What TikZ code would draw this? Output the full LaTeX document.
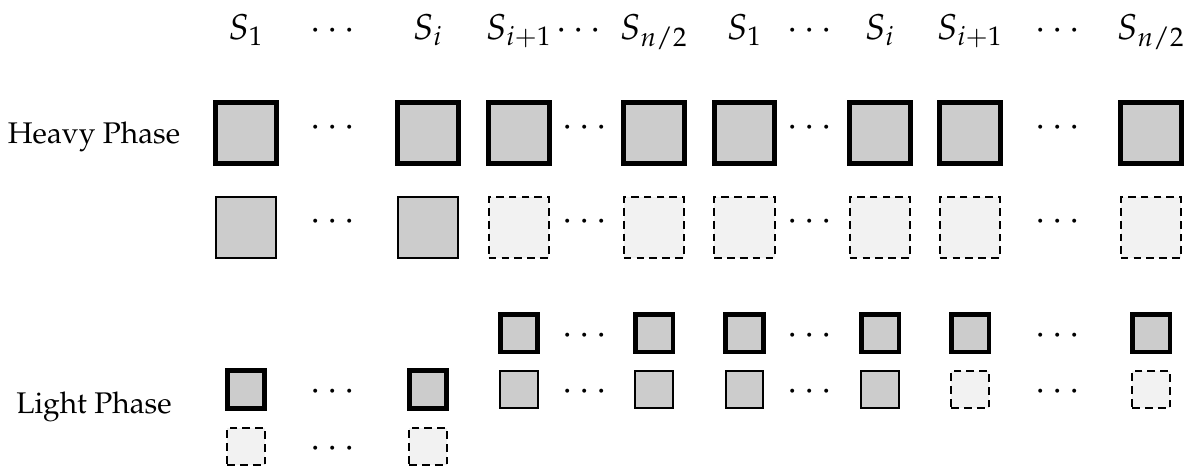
\documentclass[tikz,border=0pt]{standalone}
\usepackage[T1]{fontenc}
\usepackage{mathpazo}
\begin{document}
\begin{tikzpicture}[x=0.335pt,y=-0.335pt,
  every node/.style={inner sep=0pt,outer sep=0pt},
  bigbox/.style={minimum size=20.3pt},
  smallbox/.style={minimum size=12.6pt},
  heavybox/.style={draw=black,line width=1.55pt,fill=black!20},
  solidbox/.style={draw=black,line width=0.6pt,fill=black!20},
  dashbox/.style={draw=black,line width=0.75pt,fill=black!5,dash pattern=on 2.6pt off 1.7pt},
  lbl/.style={font=\large,anchor=base},
  dotsn/.style={font=\large},
  phase/.style={font=\normalsize}]
\useasboundingbox (0,0) rectangle (1193,468);
% column centres
\def\ca{246}\def\cb{428}\def\cc{519}\def\cd{654}
\def\ce{744.5}\def\cf{880}\def\cg{970}\def\ch{1151}
% dots columns
\def\da{333}\def\db{585}\def\dc{810}\def\dd{1058}
% rows
\def\rh{39}\def\ra{133}\def\rb{227.5}\def\rc{333}\def\rd{389.5}\def\re{446.5}

% phase labels
\node[phase] (heavy) at (94,137) {Heavy Phase};
\node[phase] (light) at (94,407) {Light Phase};

% header
\node[lbl] (s1a) at (\ca,\rh) {$S_1$};
\node[lbl] (sia) at (\cb,\rh) {$S_i$};
\node[lbl] (sja) at (\cc,\rh) {$S_{i+1}$};
\node[lbl] (sna) at (\cd,\rh) {$S_{n/2}$};
\node[lbl] (s1b) at (\ce,\rh) {$S_1$};
\node[lbl] (sib) at (\cf,\rh) {$S_i$};
\node[lbl] (sjb) at (\cg,\rh) {$S_{i+1}$};
\node[lbl] (snb) at (\ch,\rh) {$S_{n/2}$};
\node[lbl] (hd1) at (\da,\rh) {$\cdots$};
\node[lbl] (hd2) at (579,\rh) {$\cdots$};
\node[lbl] (hd3) at (\dc,\rh) {$\cdots$};
\node[lbl] (hd4) at (\dd,\rh) {$\cdots$};

% heavy phase, top row
\foreach \n/\x in {1/\ca,2/\cb,3/\cc,4/\cd,5/\ce,6/\cf,7/\cg,8/\ch}
  \node[bigbox,heavybox] (ha\n) at (\x,\ra) {};
% heavy phase, second row
\foreach \n/\x in {1/\ca,2/\cb}
  \node[bigbox,solidbox] (hb\n) at (\x,\rb) {};
\foreach \n/\x in {3/\cc,4/\cd,5/\ce,6/\cf,7/\cg,8/\ch}
  \node[bigbox,dashbox] (hb\n) at (\x,\rb) {};
\foreach \n/\x in {1/\da,2/\db,3/\dc,4/\dd}{
  \node[dotsn] (had\n) at (\x,\ra-5) {$\cdots$};
  \node[dotsn] (hbd\n) at (\x,\rb-5) {$\cdots$};
}

% light phase
\foreach \n/\x in {3/\cc,4/\cd,5/\ce,6/\cf,7/\cg,8/\ch}
  \node[smallbox,heavybox] (la\n) at (\x,\rc) {};
\foreach \n/\x in {1/\ca,2/\cb}
  \node[smallbox,heavybox] (lb\n) at (\x,\rd) {};
\foreach \n/\x in {3/\cc,4/\cd,5/\ce,6/\cf}
  \node[smallbox,solidbox] (lb\n) at (\x,\rd) {};
\foreach \n/\x in {7/\cg,8/\ch}
  \node[smallbox,dashbox] (lb\n) at (\x,\rd) {};
\foreach \n/\x in {1/\ca,2/\cb}
  \node[smallbox,dashbox] (lc\n) at (\x,\re) {};
\foreach \n/\x in {2/\db,3/\dc,4/\dd}
  \node[dotsn] (lad\n) at (\x,\rc+3) {$\cdots$};
\foreach \n/\x in {1/\da,2/\db,3/\dc,4/\dd}
  \node[dotsn] (lbd\n) at (\x,\rd+3) {$\cdots$};
\node[dotsn] (lcd1) at (\da,\re+3) {$\cdots$};
\end{tikzpicture}
\end{document}
